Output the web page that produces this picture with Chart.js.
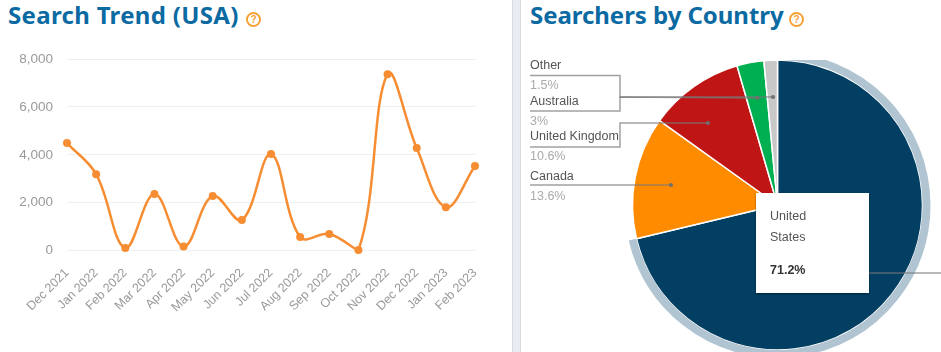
<!DOCTYPE html>
<html>
<head>
<meta charset="utf-8">
<script src="https://cdn.jsdelivr.net/npm/chart.js@4"></script>
<style>
    html, body { margin: 0; padding: 0; width: 941px; height: 352px; overflow: hidden; background: #fff; }
    body { position: relative; font-family: "Liberation Sans", Arial, sans-serif; }
    canvas { position: absolute; }
    h2 { position: absolute; margin: 0; top: -2px; font: bold 24px/34px "Noto Sans", sans-serif; color: #0b6aa2; white-space: nowrap; }
    .help { position: absolute; top: 12px; width: 11px; height: 11px; border: 2px solid #f7a034; border-radius: 50%; font: bold 10px/11px "Liberation Sans", sans-serif; color: #f7a034; text-align: center; }
    #divider { position: absolute; left: 512px; top: 0; width: 9px; height: 352px; background: #e9ecf3; border-left: 1px solid #d8dbe0; border-right: 1px solid #d8dbe0; box-sizing: border-box; }
    .pieLabel { position: absolute; left: 530px; font-size: 12.5px; line-height: 15px; color: #555; }
    .pieValue { position: absolute; left: 530px; font-size: 12.5px; line-height: 15px; color: #aaa; }
    #pieTooltip { position: absolute; left: 756px; top: 193px; width: 113px; height: 100px; background: #fff; box-shadow: 0 1px 2px rgba(0,0,0,0.45); font-size: 12.5px; color: #555; }
    #pieTooltip span { position: absolute; left: 14px; line-height: 15px; }
    #pieTooltip b { position: absolute; left: 14px; top: 70px; line-height: 15px; color: #333; }
</style>
</head>
<body>
<div id="divider"></div>
<h2 style="left:8px;letter-spacing:0.32px">Search Trend (USA)</h2>
<div class="help" style="left:246px">?</div>
<h2 style="left:530px;letter-spacing:-0.05px">Searchers by Country</h2>
<div class="help" style="left:789px">?</div>
<canvas id="trendChart" width="505" height="303" style="left:0;top:37px;width:505px;height:303px"></canvas>
<canvas id="countryChart" width="426" height="358" style="left:515px;top:0;width:426px;height:358px;clip-path:inset(60px 0 0 0)"></canvas>
<div id="pieLabels"></div>
<div id="pieTooltip"><span style="top:16px">United</span><span style="top:37px">States</span><b>71.2%</b></div>
<script>
const months = ['Dec 2021', 'Jan 2022', 'Feb 2022', 'Mar 2022', 'Apr 2022', 'May 2022', 'Jun 2022', 'Jul 2022', 'Aug 2022', 'Sep 2022', 'Oct 2022', 'Nov 2022', 'Dec 2022', 'Jan 2023', 'Feb 2023'];
const searches = [4490, 3190, 100, 2360, 170, 2280, 1270, 4030, 560, 690, 20, 7370, 4280, 1810, 3530];
const yTicks = [0, 2000, 4000, 6000, 8000];

const countries = ['United States', 'Canada', 'United Kingdom', 'Australia', 'Other'];
const shares = [71.2, 13.6, 10.6, 3, 1.5];
const sliceColors = ['#023f63', '#ff8c00', '#c01515', '#00b050', '#c8c8c8'];
const haloColors = ['#b0c4d1', 'transparent', 'transparent', 'transparent', 'transparent'];

new Chart(document.getElementById('trendChart'), {
    type: 'line',
    data: {
        labels: months,
        datasets: [{
            data: searches,
            borderColor: '#f78d32',
            backgroundColor: '#f78d32',
            borderWidth: 2.5,
            tension: 0.38,
            pointRadius: 4,
            pointBorderWidth: 0,
            clip: false,
        }],
    },
    options: {
        responsive: false,
        animation: false,
        layout: { padding: { top: 13, right: 30 } },
        plugins: { legend: { display: false }, tooltip: { enabled: false } },
        scales: {
            x: {
                offset: false,
                afterFit: function (axis) { axis.height = 89.5; },
                grid: { display: false },
                border: { display: false },
                ticks: { autoSkip: false, minRotation: 45, maxRotation: 45, padding: 7, color: '#999', font: { family: 'Liberation Sans', size: 12.5 } },
            },
            y: {
                min: 0,
                max: 8000,
                afterBuildTicks: function (axis) { axis.ticks = yTicks.map(function (v) { return { value: v }; }); },
                afterFit: function (axis) { axis.width = 67; },
                grid: { color: '#efefef', drawTicks: false },
                border: { display: false },
                ticks: { padding: 14, color: '#999', font: { family: 'Liberation Sans', size: 13.5 } },
            },
        },
    },
});

// leader lines: elbow path in page px, the last point is the dot inside the slice
const leaders = [
    [[530, 75.5], [620, 75.5], [620, 97], [773, 97]],
    [[530, 111], [620, 111], [620, 97], [757.5, 98]],
    [[530, 147], [620, 147], [620, 123], [660, 123], [708, 123]],
    [[530, 185], [671, 185]],
];
const leaderPlugin = {
    id: 'leaderPlugin',
    afterDatasetsDraw: function (chart) {
        let ctx = chart.ctx;
        let left = chart.canvas.offsetLeft;
        ctx.save();
        ctx.strokeStyle = 'rgba(120,120,120,0.7)';
        ctx.fillStyle = '#6f6f6f';
        ctx.lineWidth = 1.5;
        leaders.forEach(function (path) {
            ctx.beginPath();
            path.forEach(function (p, i) {
                if (i === 0) ctx.moveTo(p[0] - left, p[1]);
                else ctx.lineTo(p[0] - left, p[1]);
            });
            ctx.stroke();
            let end = path[path.length - 1];
            ctx.beginPath();
            ctx.arc(end[0] - left, end[1], 2, 0, Math.PI * 2);
            ctx.fill();
        });
        ctx.beginPath();
        ctx.moveTo(869 - left, 273);
        ctx.lineTo(941 - left, 273);
        ctx.stroke();
        ctx.restore();
    },
};

new Chart(document.getElementById('countryChart'), {
    type: 'pie',
    data: {
        labels: countries,
        datasets: [
            { data: shares, backgroundColor: haloColors, borderWidth: 0, weight: 8 },
            { data: shares, backgroundColor: sliceColors, borderColor: '#fff', borderWidth: 1.5, weight: 145 },
        ],
    },
    options: {
        responsive: false,
        animation: false,
        layout: { padding: { top: 52, bottom: 0, left: 109.5, right: 10.5 } },
        plugins: { legend: { display: false }, tooltip: { enabled: false } },
    },
    plugins: [leaderPlugin],
});

// slice captions, top position of each name/value pair
const captionTops = [58, 94, 129, 169];
const captionNames = ['Other', 'Australia', 'United Kingdom', 'Canada'];
const captionValues = ['1.5%', '3%', '10.6%', '13.6%'];
let holder = document.getElementById('pieLabels');
captionNames.forEach(function (name, i) {
    let label = document.createElement('div');
    label.className = 'pieLabel';
    label.style.top = captionTops[i] + 'px';
    label.textContent = name;
    holder.appendChild(label);
    let value = document.createElement('div');
    value.className = 'pieValue';
    value.style.top = (captionTops[i] + 20) + 'px';
    value.textContent = captionValues[i];
    holder.appendChild(value);
});
</script>
</body>
</html>
